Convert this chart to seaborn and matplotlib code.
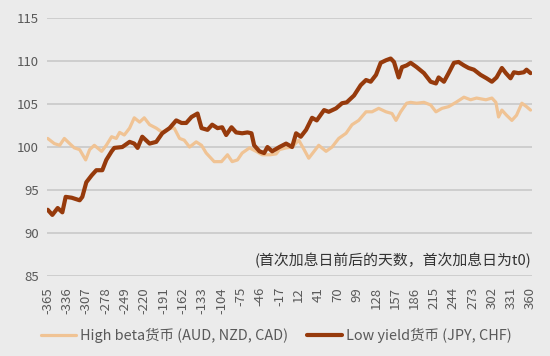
import numpy as np
import pandas as pd
import matplotlib
matplotlib.use("Agg")
import matplotlib.pyplot as plt
import seaborn as sns

# Low yield货币 (JPY, CHF)
low_days = [-365, -358, -350, -343, -338, -329, -317, -313, -307, -299, -292, -283, -277, -269,
            -265, -253, -242, -235, -230, -223, -212, -202, -193, -182, -172, -164, -157, -149,
            -140, -134, -125, -118, -110, -103, -97, -89, -82, -73, -65, -59, -55, -47, -40, -35,
            -28, -17, -7, 2, 8, 15, 23, 32, 39, 50, 57, 68, 77, 84, 95, 105, 113, 120, 128, 135,
            143, 150, 155, 162, 167, 174, 180, 189, 200, 210, 218, 222, 230, 237, 245, 252, 260,
            267, 275, 285, 294, 302, 309, 317, 323, 330, 335, 342, 350, 354, 360]
low_vals = [92.7, 92.1, 92.9, 92.4, 94.2, 94.1, 93.8, 94.2, 95.9, 96.7, 97.3, 97.3, 98.5, 99.5,
            99.9, 100.0, 100.6, 100.4, 99.9, 101.2, 100.4, 100.6, 101.6, 102.2, 103.1, 102.8, 102.8, 103.5,
            103.9, 102.2, 102.0, 102.6, 102.2, 102.3, 101.4, 102.3, 101.7, 101.6, 101.7, 101.6, 100.2, 99.5, 99.3, 100.0,
            99.5, 100.0, 100.4, 100.0, 101.6, 101.2, 102.0, 103.4, 103.1, 104.3, 104.1, 104.5, 105.1, 105.2, 106.0, 107.2, 107.8, 107.6, 108.4, 109.8,
            110.1, 110.3, 109.9, 108.1, 109.3, 109.5, 109.8, 109.3, 108.6, 107.6, 107.4, 108.1, 107.6, 108.6, 109.8, 109.9, 109.5,
            109.2, 109.0, 108.4, 108.0, 107.6, 108.1, 109.2, 108.6, 108.0, 108.7, 108.6, 108.7, 109.0, 108.6]

# High beta货币 (AUD, NZD, CAD)
high_days = [-365, -355, -347, -340, -332, -325, -317, -308, -302, -295, -284, -277, -269, -262,
             -257, -250, -242, -235, -227, -220, -212, -202, -193, -182, -175, -167, -160, -152,
             -142, -134, -127, -115, -104, -95, -88, -80, -73, -62, -52, -43, -31, -22, -17, -7,
             2, 12, 20, 27, 35, 42, 53, 62, 72, 83, 92, 102, 113, 122, 132, 143, 152, 158, 165,
             174, 180, 189, 200, 210, 218, 227, 237, 248, 260, 270, 279, 293, 302, 308, 312, 317,
             324, 332, 339, 347, 354, 360]
high_vals = [101.0, 100.4, 100.2, 101.0, 100.4, 99.9, 99.7, 98.5, 99.7, 100.2, 99.5, 100.2, 101.2, 101.0,
             101.7, 101.4, 102.2, 103.4, 102.9, 103.4, 102.6, 102.2, 101.7, 102.2, 102.2, 101.0, 100.8, 100.0,
             100.6, 100.2, 99.3, 98.3, 98.3, 99.1, 98.3, 98.5, 99.3, 99.9, 99.5, 99.1, 99.1, 99.2, 99.7, 99.9,
             100.0, 100.8, 99.7, 98.7, 99.5, 100.2, 99.5, 100.0, 101.0, 101.6, 102.6, 103.1, 104.1, 104.1, 104.5, 104.1, 103.9, 103.1, 104.1,
             105.1, 105.2, 105.1, 105.2, 104.9, 104.1, 104.5, 104.7, 105.2, 105.8, 105.5, 105.7, 105.5, 105.7, 105.2, 103.5, 104.3,
             103.7, 103.1, 103.7, 105.1, 104.7, 104.3]

x_ticks = [-365, -336, -307, -278, -249, -220, -191, -162, -133, -104, -75, -46, -17,
           12, 41, 70, 99, 128, 157, 186, 215, 244, 273, 302, 331, 360]
y_ticks = [85, 90, 95, 100, 105, 110, 115]

high_label = "High beta货币 (AUD, NZD, CAD)"
low_label = "Low yield货币 (JPY, CHF)"
note = "(首次加息日前后的天数，首次加息日为t0)"

bg = "#ebebeb"
sns.set_theme(style="white")
plt.rcParams["font.family"] = ["Noto Sans CJK SC", "DejaVu Sans"]

fig = plt.figure(figsize=(5.5, 3.56), dpi=100, facecolor=bg)
ax = fig.add_axes([0.0855, 0.225, 0.8815, 0.724])
ax.set_facecolor(bg)

high_df = pd.DataFrame({"day": high_days, "value": high_vals})
low_df = pd.DataFrame({"day": low_days, "value": low_vals})

sns.lineplot(data=high_df, x="day", y="value", ax=ax, color="#f0c394", linewidth=2.3, label=high_label)
sns.lineplot(data=low_df, x="day", y="value", ax=ax, color="#963a0c", linewidth=3.0, label=low_label)

ax.set_xlim(-366, 362)
ax.set_ylim(85, 115)
ax.set_xticks(x_ticks)
ax.set_xticklabels([str(t) for t in x_ticks], rotation=90)
ax.set_yticks(y_ticks)
ax.set_xlabel("")
ax.set_ylabel("")
ax.grid(axis="y", color="#c9c9c9", linewidth=1.2)
ax.set_axisbelow(True)
for s in ax.spines.values():
    s.set_visible(False)
ax.tick_params(axis="x", length=0, pad=8, labelsize=9.5, colors="#595959")
ax.tick_params(axis="y", length=0, pad=6, labelsize=9.5, colors="#595959")

ax.text(1.0, 0.03, note, transform=ax.transAxes, ha="right", va="bottom",
        fontsize=10.7, color="#333333")

ax.get_legend().remove()
handles, labels = ax.get_legend_handles_labels()
fig.legend(handles, labels, loc="center", bbox_to_anchor=(0.503, 0.058), ncol=2,
           frameon=False, prop={"size": 10.4, "weight": "light"}, handlelength=2.4,
           columnspacing=1.3, handletextpad=0.3, labelcolor="#595959")

fig.savefig("out.png", dpi=100, facecolor=bg)
